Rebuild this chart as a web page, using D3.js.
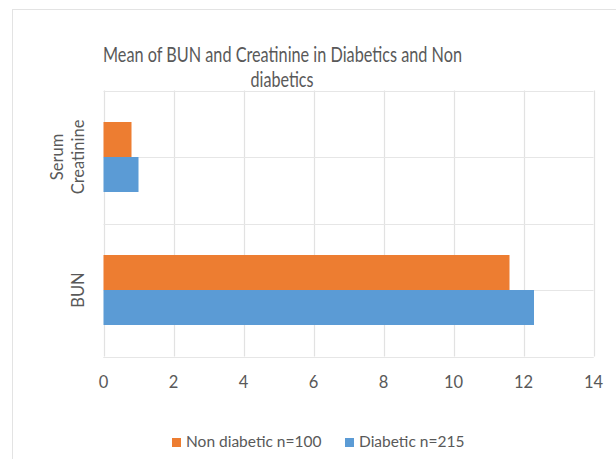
<!DOCTYPE html>
<html>
<head>
<meta charset="utf-8">
<script src="https://cdn.jsdelivr.net/npm/d3@7"></script>
<style>
  body { margin: 0; background: #fff; }
  text { font-family: Lato, "Open Sans", sans-serif; fill: #595959; }
</style>
</head>
<body>
<div id="chart"></div>
<script>
// chart data
var categories = ["Serum Creatinine", "BUN"];
var seriesNames = ["Non diabetic n=100", "Diabetic n=215"];
var nonDiabetic = [0.8, 11.6];
var diabetic = [1.0, 12.3];
var xTicks = [0, 2, 4, 6, 8, 10, 12, 14];
var colors = ["#ED7D31", "#5B9BD5"];

var svgWidth = 616;
var svgHeight = 459;

var svg = d3.select("#chart")
    .append("svg")
    .attr("width", svgWidth)
    .attr("height", svgHeight);

// outer chart border (cropped on right and bottom)
svg.append("rect")
    .attr("x", 12.5)
    .attr("y", 9.5)
    .attr("width", 700)
    .attr("height", 600)
    .attr("fill", "none")
    .attr("stroke", "#e3e3e3");

var plotLeft = 103.5, plotRight = 593.5, plotTop = 90.5, plotBottom = 356.5;

var x = d3.scaleLinear()
    .domain([0, 14])
    .range([plotLeft, plotRight]);

var y = d3.scaleBand()
    .domain(categories)
    .range([plotTop, plotBottom]);

// series inside each band
var ySub = d3.scaleBand()
    .domain([0, 1])
    .range([0, y.bandwidth()])
    .paddingOuter(0.9)
    .paddingInner(0);

// vertical gridlines
svg.append("g")
    .selectAll("line")
    .data(xTicks)
    .join("line")
    .attr("x1", d => Math.round(x(d)) + 0.5)
    .attr("x2", d => Math.round(x(d)) + 0.5)
    .attr("y1", plotTop)
    .attr("y2", plotBottom)
    .attr("stroke", "#e2e2e2")
    .attr("stroke-width", 1.2);

// horizontal lines at band edges and centres
var hLines = [plotTop, plotBottom];
categories.forEach(function(c) {
    hLines.push(y(c) + y.bandwidth() / 2);
    hLines.push(y(c) + y.bandwidth());
});
svg.append("g")
    .selectAll("line")
    .data(hLines)
    .join("line")
    .attr("x1", plotLeft)
    .attr("x2", plotRight)
    .attr("y1", d => Math.round(d) + 0.5)
    .attr("y2", d => Math.round(d) + 0.5)
    .attr("stroke", "#e6e6e6")
    .attr("stroke-width", 1.2);

// bars
var allSeries = [nonDiabetic, diabetic];
allSeries.forEach(function(values, s) {
    svg.append("g")
        .selectAll("rect")
        .data(values)
        .join("rect")
        .attr("x", x(0))
        .attr("y", (d, i) => y(categories[i]) + ySub(s))
        .attr("width", d => x(d) - x(0))
        .attr("height", ySub.bandwidth())
        .attr("fill", colors[s]);
});

// x axis tick labels
svg.append("g")
    .selectAll("text")
    .data(xTicks)
    .join("text")
    .attr("x", d => x(d))
    .attr("y", 387.5)
    .attr("text-anchor", "middle")
    .style("font-size", "16.5px")
    .text(d => d);

// category labels (rotated)
var catLines = [["Serum", "Creatinine"], ["BUN"]];
categories.forEach(function(c, i) {
    var cy = y(c) + y.bandwidth() / 2;
    var lines = catLines[i];
    var g = svg.append("g")
        .attr("transform", "translate(" + 83.5 + "," + cy + ") rotate(-90)");
    lines.slice().reverse().forEach(function(t, j) {
        g.append("text")
            .attr("x", 0)
            .attr("y", -j * 21)
            .attr("text-anchor", "middle")
            .style("font-size", "16.5px")
            .text(t);
    });
});

// title
svg.append("text")
    .attr("x", 282.5)
    .attr("y", 61.5)
    .attr("text-anchor", "middle")
    .attr("textLength", 359)
    .attr("lengthAdjust", "spacingAndGlyphs")
    .style("font-size", "21px")
    .text("Mean of BUN and Creatinine in Diabetics and Non");
svg.append("text")
    .attr("x", 282)
    .attr("y", 87)
    .attr("text-anchor", "middle")
    .attr("textLength", 63)
    .attr("lengthAdjust", "spacingAndGlyphs")
    .style("font-size", "21px")
    .text("diabetics");

// legend
var legendX = [172, 345];
var legend = svg.append("g")
    .selectAll("g")
    .data(seriesNames)
    .join("g")
    .attr("transform", (d, i) => "translate(" + legendX[i] + ",438)");

legend.append("rect")
    .attr("width", 9)
    .attr("height", 9)
    .attr("fill", (d, i) => colors[i]);

legend.append("text")
    .attr("x", 14)
    .attr("y", 9)
    .style("font-size", "15.5px")
    .text(d => d);
</script>
</body>
</html>
